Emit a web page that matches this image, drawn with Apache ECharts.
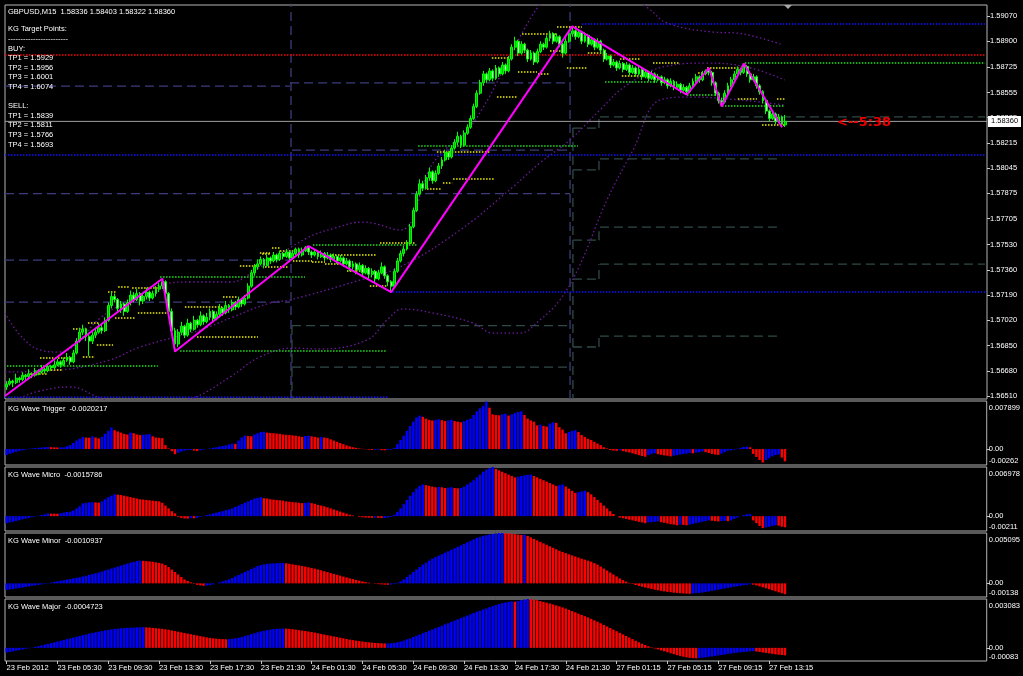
<!DOCTYPE html>
<html><head><meta charset="utf-8"><title>GBPUSD M15</title>
<script src="https://cdn.jsdelivr.net/npm/echarts@6.0.0/dist/echarts.min.js"></script>
<style>html,body{margin:0;padding:0;background:#000;}#chart{width:1023px;height:676px;}</style>
</head><body><div id="chart"></div><script>
const FONT = 'Liberation Sans, Arial, sans-serif';
const TXT = '#ffffff';
const SLOTS = 309;
const categories = Array.from({length: SLOTS}, (_, i) => 'b' + i);

const xTickLabels = ['23 Feb 2012','23 Feb 05:30','23 Feb 09:30','23 Feb 13:30','23 Feb 17:30','23 Feb 21:30','24 Feb 01:30','24 Feb 05:30','24 Feb 09:30','24 Feb 13:30','24 Feb 17:30','24 Feb 21:30','27 Feb 01:15','27 Feb 05:15','27 Feb 09:15','27 Feb 13:15'];
const priceTicks = [1.59070,1.58900,1.58725,1.58555,1.58385,1.58215,1.58045,1.57875,1.57705,1.57530,1.57360,1.57190,1.57020,1.56850,1.56680,1.56510];
const symbolName = 'GBPUSD,M15';
const infoLines = ['KG Target Points:','------------------------','BUY:','TP1 = 1.5929','TP2 = 1.5956','TP3 = 1.6001','TP4 = 1.6074','','SELL:','TP1 = 1.5839','TP2 = 1.5811','TP3 = 1.5766','TP4 = 1.5693'];
const timerText = '<--5:38';

// [open, close, low, high]
const candles = [
[1.5657,1.5659,1.5655,1.5661],[1.5659,1.5661,1.5658,1.5663],[1.5661,1.5660,1.5657,1.5662],[1.5660,1.5663,1.5659,1.5666],[1.5663,1.5662,1.5660,1.5664],
[1.5662,1.5665,1.5661,1.5667],[1.5665,1.5664,1.5662,1.5666],[1.5664,1.5666,1.5663,1.5669],[1.5666,1.5665,1.5663,1.5667],[1.5665,1.5668,1.5664,1.5670],
[1.5668,1.5667,1.5665,1.5669],[1.5667,1.5669,1.5666,1.5672],[1.5669,1.5668,1.5666,1.5670],[1.5668,1.5671,1.5667,1.5673],[1.5671,1.5670,1.5668,1.5672],
[1.5670,1.5672,1.5669,1.5675],[1.5672,1.5674,1.5671,1.5676],[1.5674,1.5672,1.5670,1.5675],[1.5672,1.5675,1.5671,1.5677],[1.5675,1.5677,1.5674,1.5680],
[1.5677,1.5674,1.5672,1.5678],[1.5674,1.5680,1.5673,1.5682],[1.5680,1.5688,1.5679,1.5690],[1.5688,1.5694,1.5687,1.5697],[1.5694,1.5696,1.5692,1.5699],
[1.5696,1.5691,1.5688,1.5697],[1.5691,1.5688,1.5678,1.5692],[1.5688,1.5692,1.5686,1.5694],[1.5692,1.5694,1.5690,1.5697],[1.5694,1.5697,1.5693,1.5700],
[1.5697,1.5695,1.5693,1.5699],[1.5695,1.5702,1.5694,1.5704],[1.5702,1.5712,1.5701,1.5714],[1.5712,1.5718,1.5710,1.5721],[1.5718,1.5716,1.5714,1.5720],
[1.5716,1.5710,1.5708,1.5717],[1.5710,1.5713,1.5707,1.5715],[1.5713,1.5708,1.5705,1.5714],[1.5708,1.5714,1.5707,1.5716],[1.5714,1.5719,1.5712,1.5722],
[1.5719,1.5716,1.5714,1.5721],[1.5716,1.5720,1.5715,1.5723],[1.5720,1.5715,1.5712,1.5721],[1.5715,1.5718,1.5713,1.5720],[1.5718,1.5721,1.5716,1.5724],
[1.5721,1.5717,1.5715,1.5722],[1.5717,1.5720,1.5716,1.5722],[1.5720,1.5723,1.5718,1.5725],[1.5723,1.5725,1.5721,1.5727],[1.5725,1.5728,1.5723,1.5730],
[1.5728,1.5720,1.5718,1.5729],[1.5720,1.5708,1.5706,1.5721],[1.5708,1.5695,1.5693,1.5710],[1.5695,1.5686,1.5681,1.5697],[1.5686,1.5694,1.5684,1.5696],
[1.5694,1.5698,1.5692,1.5701],[1.5698,1.5692,1.5690,1.5699],[1.5692,1.5700,1.5691,1.5703],[1.5700,1.5696,1.5694,1.5701],[1.5696,1.5702,1.5695,1.5705],
[1.5702,1.5699,1.5697,1.5703],[1.5699,1.5705,1.5698,1.5708],[1.5705,1.5701,1.5699,1.5706],[1.5701,1.5704,1.5700,1.5707],[1.5704,1.5708,1.5702,1.5710],
[1.5708,1.5703,1.5701,1.5709],[1.5703,1.5706,1.5702,1.5708],[1.5706,1.5710,1.5704,1.5713],[1.5710,1.5707,1.5705,1.5711],[1.5707,1.5712,1.5706,1.5715],
[1.5712,1.5709,1.5707,1.5713],[1.5709,1.5714,1.5708,1.5716],[1.5714,1.5711,1.5709,1.5715],[1.5711,1.5716,1.5710,1.5718],[1.5716,1.5713,1.5711,1.5717],
[1.5713,1.5717,1.5712,1.5719],[1.5717,1.5725,1.5716,1.5727],[1.5725,1.5734,1.5724,1.5736],[1.5734,1.5738,1.5732,1.5740],[1.5738,1.5740,1.5736,1.5743],
[1.5740,1.5743,1.5739,1.5745],[1.5743,1.5739,1.5737,1.5744],[1.5739,1.5744,1.5738,1.5746],[1.5744,1.5742,1.5740,1.5745],[1.5742,1.5746,1.5741,1.5748],
[1.5746,1.5743,1.5741,1.5747],[1.5743,1.5747,1.5742,1.5749],[1.5747,1.5745,1.5743,1.5748],[1.5745,1.5748,1.5744,1.5750],[1.5748,1.5744,1.5742,1.5749],
[1.5744,1.5747,1.5743,1.5749],[1.5747,1.5750,1.5746,1.5751],[1.5750,1.5746,1.5744,1.5751],[1.5746,1.5749,1.5745,1.5751],[1.5749,1.5751,1.5748,1.5752],
[1.5751,1.5748,1.5746,1.5752],[1.5748,1.5746,1.5744,1.5749],[1.5746,1.5748,1.5745,1.5750],[1.5748,1.5745,1.5743,1.5749],[1.5745,1.5747,1.5744,1.5749],
[1.5747,1.5744,1.5742,1.5748],[1.5744,1.5746,1.5743,1.5748],[1.5746,1.5743,1.5741,1.5747],[1.5743,1.5745,1.5742,1.5747],[1.5745,1.5742,1.5740,1.5746],
[1.5742,1.5744,1.5741,1.5746],[1.5744,1.5740,1.5738,1.5745],[1.5740,1.5742,1.5739,1.5744],[1.5742,1.5738,1.5735,1.5743],[1.5738,1.5740,1.5736,1.5742],
[1.5740,1.5736,1.5733,1.5741],[1.5736,1.5739,1.5735,1.5741],[1.5739,1.5734,1.5731,1.5740],[1.5734,1.5737,1.5733,1.5739],[1.5737,1.5733,1.5730,1.5738],
[1.5733,1.5735,1.5731,1.5737],[1.5735,1.5730,1.5727,1.5736],[1.5730,1.5734,1.5729,1.5736],[1.5734,1.5738,1.5733,1.5741],[1.5738,1.5732,1.5730,1.5739],
[1.5732,1.5728,1.5725,1.5733],[1.5728,1.5725,1.5721,1.5729],[1.5725,1.5735,1.5724,1.5737],[1.5735,1.5742,1.5734,1.5744],[1.5742,1.5747,1.5741,1.5749],
[1.5747,1.5750,1.5745,1.5752],[1.5750,1.5754,1.5749,1.5756],[1.5754,1.5765,1.5753,1.5767],[1.5765,1.5776,1.5764,1.5778],[1.5776,1.5787,1.5775,1.5789],
[1.5787,1.5794,1.5786,1.5797],[1.5794,1.5791,1.5789,1.5796],[1.5791,1.5798,1.5790,1.5800],[1.5798,1.5802,1.5796,1.5805],[1.5802,1.5796,1.5794,1.5803],
[1.5796,1.5801,1.5795,1.5803],[1.5801,1.5806,1.5800,1.5808],[1.5806,1.5810,1.5804,1.5812],[1.5810,1.5815,1.5809,1.5817],[1.5815,1.5812,1.5810,1.5816],
[1.5812,1.5818,1.5811,1.5820],[1.5818,1.5822,1.5817,1.5824],[1.5822,1.5826,1.5820,1.5829],[1.5826,1.5820,1.5818,1.5827],[1.5820,1.5828,1.5819,1.5830],
[1.5828,1.5832,1.5827,1.5834],[1.5832,1.5838,1.5831,1.5840],[1.5838,1.5846,1.5837,1.5848],[1.5846,1.5855,1.5845,1.5857],[1.5855,1.5862,1.5854,1.5864],
[1.5862,1.5868,1.5860,1.5870],[1.5868,1.5864,1.5862,1.5869],[1.5864,1.5870,1.5863,1.5872],[1.5870,1.5865,1.5863,1.5871],[1.5865,1.5872,1.5864,1.5874],
[1.5872,1.5868,1.5866,1.5873],[1.5868,1.5874,1.5867,1.5876],[1.5874,1.5870,1.5868,1.5875],[1.5870,1.5878,1.5869,1.5880],[1.5878,1.5886,1.5877,1.5888],
[1.5886,1.5890,1.5884,1.5893],[1.5890,1.5882,1.5880,1.5891],[1.5882,1.5888,1.5881,1.5890],[1.5888,1.5884,1.5882,1.5889],[1.5884,1.5878,1.5876,1.5885],
[1.5878,1.5882,1.5877,1.5884],[1.5882,1.5876,1.5874,1.5883],[1.5876,1.5883,1.5875,1.5885],[1.5883,1.5888,1.5882,1.5890],[1.5888,1.5886,1.5884,1.5889],
[1.5886,1.5892,1.5885,1.5894],[1.5892,1.5895,1.5890,1.5897],[1.5895,1.5890,1.5888,1.5896],[1.5890,1.5893,1.5889,1.5895],[1.5893,1.5888,1.5886,1.5894],
[1.5888,1.5882,1.5879,1.5889],[1.5882,1.5890,1.5881,1.5892],[1.5890,1.5895,1.5889,1.5897],[1.5895,1.5897,1.5893,1.5900],[1.5897,1.5893,1.5891,1.5898],
[1.5893,1.5896,1.5892,1.5898],[1.5896,1.5890,1.5888,1.5897],[1.5890,1.5894,1.5889,1.5896],[1.5894,1.5888,1.5886,1.5895],[1.5888,1.5891,1.5887,1.5893],
[1.5891,1.5886,1.5884,1.5892],[1.5886,1.5890,1.5885,1.5892],[1.5890,1.5884,1.5882,1.5891],[1.5884,1.5878,1.5876,1.5885],[1.5878,1.5880,1.5877,1.5882],
[1.5880,1.5874,1.5872,1.5881],[1.5874,1.5876,1.5873,1.5878],[1.5876,1.5872,1.5870,1.5877],[1.5872,1.5875,1.5871,1.5877],[1.5875,1.5871,1.5869,1.5876],
[1.5871,1.5874,1.5870,1.5876],[1.5874,1.5869,1.5867,1.5875],[1.5869,1.5872,1.5868,1.5874],[1.5872,1.5868,1.5866,1.5873],[1.5868,1.5871,1.5867,1.5873],
[1.5871,1.5866,1.5864,1.5872],[1.5866,1.5869,1.5865,1.5871],[1.5869,1.5865,1.5863,1.5870],[1.5865,1.5868,1.5864,1.5870],[1.5868,1.5864,1.5862,1.5869],
[1.5864,1.5866,1.5863,1.5868],[1.5866,1.5862,1.5860,1.5867],[1.5862,1.5864,1.5861,1.5866],[1.5864,1.5860,1.5858,1.5865],[1.5860,1.5863,1.5859,1.5865],
[1.5863,1.5859,1.5857,1.5864],[1.5859,1.5861,1.5858,1.5863],[1.5861,1.5857,1.5855,1.5862],[1.5857,1.5859,1.5856,1.5861],[1.5859,1.5856,1.5854,1.5860],
[1.5856,1.5860,1.5855,1.5862],[1.5860,1.5863,1.5859,1.5865],[1.5863,1.5866,1.5862,1.5868],[1.5866,1.5864,1.5862,1.5867],[1.5864,1.5868,1.5863,1.5870],
[1.5868,1.5870,1.5867,1.5871],[1.5870,1.5869,1.5867,1.5872],[1.5869,1.5862,1.5860,1.5870],[1.5862,1.5855,1.5853,1.5863],[1.5855,1.5850,1.5848,1.5856],
[1.5850,1.5849,1.5846,1.5852],[1.5849,1.5855,1.5848,1.5857],[1.5855,1.5860,1.5854,1.5862],[1.5860,1.5864,1.5859,1.5866],[1.5864,1.5868,1.5863,1.5870],
[1.5868,1.5871,1.5867,1.5873],[1.5871,1.5869,1.5867,1.5872],[1.5869,1.5873,1.5868,1.5875],[1.5873,1.5868,1.5866,1.5874],[1.5868,1.5864,1.5862,1.5869],
[1.5864,1.5866,1.5863,1.5868],[1.5866,1.5860,1.5858,1.5867],[1.5860,1.5856,1.5854,1.5861],[1.5856,1.5850,1.5848,1.5857],[1.5850,1.5843,1.5841,1.5851],
[1.5843,1.5838,1.5836,1.5844],[1.5838,1.5841,1.5837,1.5843],[1.5841,1.5836,1.5834,1.5842],[1.5836,1.5839,1.5835,1.5841],[1.5839,1.5834,1.5832,1.5840],
[1.58336,1.58360,1.58322,1.58403]
];

// ZigZag pivots [bar index, price]
const zigzag = [[-0.5,1.5651],[49,1.5730],[53,1.5681],[95,1.5752],[121,1.5721],[178,1.5900],[214,1.5854],[221,1.5872],[225,1.5846],[232,1.5875],[244,1.5832]];

// Band curves [bar index, price]
const upperBand = [[-0.5,1.57069],[4.2,1.56921],[10.5,1.5682],[16.8,1.56806],[21.5,1.56854],[29.4,1.57035],[38.8,1.57157],[48.3,1.57258],[57.7,1.57278],[70.3,1.57278],[79.7,1.57379],[94.5,1.57574],[103.4,1.57642],[112.2,1.57682],[123.8,1.57628],[134.2,1.5808],[146.8,1.58349],[162.2,1.58955],[167.2,1.59131],[174.1,1.5931],[193,1.59245],[201.8,1.59124],[207.8,1.59023],[222.3,1.58962],[229.8,1.58955],[237.1,1.58922],[244.3,1.58875]];
const middleBand = [[-0.5,1.56672],[16.8,1.56685],[32.5,1.56753],[42,1.5684],[60.9,1.56955],[71.2,1.57042],[82.9,1.57137],[89.2,1.57157],[111.2,1.57291],[123.8,1.57379],[142.7,1.57628],[159.3,1.57918],[167.8,1.5808],[177.3,1.58235],[186.7,1.58437],[195.2,1.58605],[207.8,1.58733],[220.4,1.58753],[233,1.58726],[244.9,1.58639]];
const lowerBand = [[-0.5,1.5645],[4.2,1.56497],[10.5,1.56544],[20,1.56571],[29.4,1.56497],[42,1.56416],[58.7,1.56497],[70.3,1.56638],[79.7,1.56773],[90.1,1.56833],[98.6,1.56827],[113.4,1.56887],[119.7,1.57022],[124.7,1.57096],[134.2,1.57069],[146.8,1.57002],[153,1.56934],[161.5,1.56934],[167.8,1.57022],[174.1,1.57157],[180.4,1.57393],[188.9,1.5783],[197.1,1.58167],[205.6,1.58504],[215,1.58524],[230.8,1.58504],[244.9,1.5847]];

// Horizontal levels [from bar, to bar, price]
const yellowLevels = [[10.5,20.6,1.56766],[7.4,12.7,1.56658],[13,17.4,1.56685],[20.9,25.6,1.56961],[25.6,29.4,1.57002],[28.4,33.5,1.56854],[24,27.8,1.56773],[35.1,38.8,1.57244],[39.5,47.6,1.57238],[31.9,34.7,1.57211],[34.1,40.4,1.57035],[41.3,50.8,1.57069],[56.1,67.8,1.5711],[59.9,79.1,1.56907],[68.1,72.5,1.57177],[73.4,79.7,1.57386],[80.4,82.9,1.57467],[83.5,86,1.57507],[86,93.3,1.57487],[79.7,82.9,1.57473],[81.3,88.5,1.57379],[90.1,96.1,1.57419],[96.1,100.2,1.57413],[102.4,116.5,1.5746],[100.2,104.9,1.57399],[107.1,115,1.57352],[114.3,119.7,1.57251],[117.5,128.5,1.57541],[135.4,152.1,1.58154],[140.5,153.7,1.57972],[137.3,140.2,1.57945],[132.3,137,1.57905],[154.3,160.6,1.58524],[152.7,157.8,1.58787],[162.2,173.2,1.58949],[173.2,181,1.58996],[160.9,166.9,1.58693],[167.2,171,1.58679],[171,175.1,1.58834],[176.3,182.6,1.5872],[182.9,187.7,1.58821],[193,199.3,1.5878],[203.4,211.9,1.58753],[193.6,199.9,1.58666],[217.6,220.4,1.58686],[220.4,230.8,1.5872],[230.1,236.1,1.58511],[242.4,244.9,1.58511],[237.7,244.9,1.58336]];
const greenLevels = [[0.1,47.6,1.56712],[48.3,93.9,1.57312],[54.6,119.7,1.56813],[96.4,129.1,1.57527],[129.5,179.8,1.58194],[188.3,204.7,1.58625],[214.1,222.9,1.58538],[225.1,244.9,1.58464],[232.3,307.9,1.58753]];
const blueLevels = [[-0.5,307.9,1.58134],[120.6,307.9,1.57211],[-0.5,120,1.56502],[181,307.9,1.59016]];
const redLevels = [[-0.5,307.9,1.58807]];
const slateLevels = [[-0.5,89.2,1.58598],[-0.5,177.3,1.57873],[-0.5,89.2,1.57426],[-0.5,89.2,1.57143],[89.2,177.3,1.58619],[89.8,177.3,1.58167]];
const grayLevels = [[89.8,177.3,1.56984],[89.8,177.3,1.56705],[178.2,186.1,1.58315],[186.7,307.9,1.5839],[178.2,186.1,1.58033],[186.7,243.4,1.58107],[186.7,243.4,1.57648],[178.2,186.1,1.57560],[186.7,307.9,1.57399],[178.2,186.1,1.57298],[186.7,243.4,1.56914],[178.2,186.1,1.56840]];
// vertical connectors of the grey step levels [bar, fromPrice, toPrice]
const grayVerticals = [[89.8,1.56984,1.564898],[178.2,1.58315,1.564898],[186.4,1.58315,1.5839],[186.4,1.58033,1.58107],[186.4,1.5756,1.57648],[186.4,1.57298,1.57399],[186.4,1.5684,1.56914]];
const daySeparators = [89.5, 177.3];

// Oscillator panels (values in units of 1e-4)
const OSC_SCALE = 1e-4;
const triggerE4 = [-10,-8,-6,-4.5,-3,-2,-1,0.5,1,1.5, 2,2.5,3,3.5,3.2,2.8,2.5,2.7,3,4.5, 6.5,10,14,17,20,19,18.5,21,19,17.5, 20,25,30,35.5,31,29,27,25,24,27, 26,24,23,23.5,24,24.5,21,19,18.5,18, 6.5,1,-3.5,-8.5,-6,-4,-2.5,-1.8,-1.5,-2.5, -3.3,-2,-1,0,1,2,3,4,5,6, 7.5,9,8.5,14,19,22,21.5,21,24,26, 28,28.5,27,26.5,26,25.5,25,24,23.5,23, 22.5,22,21,20,21.5,22,21,20,19,20, 19,18,16,14,12,10,8,6,4.5,3, 2,1,0.5,-0.5,-1,-1.5,-1.2,-1,-1.8,-2, -1.5,-1,2,8,15,22,30,38,45,52, 55,53,50,48,47,48,49,47.5,46,47, 48,46,45,44,46,48,50,56,62,67, 71,78,68,57,56,55.5,57,58,55,57, 59,61,62,56,50,47,45,39,40,38, 37,42,44,43,36,32,26,28,30,31, 28,23,20,17,15,12,9,6.5,3,1, -1.5,-2.5,-3,-2,-3.5,-4.5,-5.5,-7,-8.5,-10, -11.5,-12.5,-10,-8,-7,-8.5,-9.5,-10.5,-11,-12, -11,-10,-9,-8,-7.5,-6.5,-7,-6,-5,-4, -5,-6.5,-8,-9,-9.5,-7.5,-5,-3,-2,-1, 0.5,2,3.5,4,3,-8,-13,-18,-22,-18, -15,-12,-10,-9,-14,-20.217];
const microE4 = [-10,-9,-8,-7,-5.7,-4.5,-3.5,-2.5,-1.5,-0.5, 0.5,1.5,2.5,3.8,3.6,3.5,3.4,4,5,6, 6.5,8,11,14,18,19,19.4,19.8,19.5,19.2, 21,24,27,29,31,30.5,30,29,28,27, 26,25,24,23.5,23,22.5,22,21.5,21,19, 15,11,7,4,-1,-2.5,-3.3,-3.5,-2.8,-3, -2.4,-1,0.5,1.4,2.5,3.8,5,6,7,8.5, 9.5,11,13,15,17,19,21,23,25,26, 27,25.5,25,24,23.5,23,22.5,22,21,20.5, 20,19.5,19,18.5,19,19.5,18.5,17.5,16,15, 14,12.5,11,9.5,8,6.5,5,3.5,2,1, 0,-1,-1.5,-2,-2.2,-2.4,-2.1,-2.5,-2.8,-2.5, -2,-1,2,6,11,17,23,29,34,39, 43,45,44,43,42,41,41.5,41,40,40.5, 41,40,39.5,40,42,45,48,51,55,59, 63,66,68,69.78,67,65,63,61,59,57, 55,56,57,58,58.5,59,57,55,53,51, 49,47,45,43,44,45,42,39,36,33, 34,35,36,34,31,27,23,19,15,11, 7,3,0,-2,-3,-4,-5,-6,-7,-8, -9,-10,-9,-8.5,-8,-7.5,-8.5,-9.5,-10.5,-11.5, -12,-13,-12,-12.5,-13,-12,-11,-10,-9,-8, -7,-6,-6.5,-7,-7.5,-7,-6.5,-7,-6,-4, -2,0,1.5,2.5,3,-6,-10,-14,-17,-16, -15,-14,-13,-13.5,-15,-15.786];
const minorE4 = [-6.7,-6.2,-5.7,-5.2,-4.7,-4.2,-3.6,-3,-2.5,-2, -1.5,-1,-0.5,0.2,0.8,1.5,2,2.6,3.2,3.8, 4.4,5,5.6,6.2,7,7.8,8.6,9.4,10.2,11, 12,13,14,15,16,17,18,19,20,21, 21.8,22.5,23,22.8,22.5,22.2,21.8,21.3,20.7,20, 18.5,16.5,14,11.5,9,6.5,4,2.5,1,-0.5, -1.5,-2,-2.4,-2.2,-1.8,-1,0,1,2,3, 4,5.5,7,8.5,10,11.5,13,14.5,16,17.5, 18.5,19.2,19.7,20,20.2,20.4,20.6,20.7,20.3,19.8, 19.3,18.7,18.2,17.6,17,16.3,15.6,14.8,14,13.2, 12.3,11.4,10.5,9.6,8.7,7.8,6.9,6,5.1,4.3, 3.5,2.7,2,1.3,0.7,0.1,-0.4,-0.8,-1.1,-1.3, -1.4,-1.2,-0.6,0.5,2,4,6.5,9,11.5,14, 16.5,19,21,23,25,26.5,28,29.5,31,32.5, 34,35.5,37,38.5,40,41.5,43,44.5,46,47, 48,48.8,49.5,50,50.5,50.9,50.95,50.8,50.5,50.2, 49.8,49.4,49,49.2,48,46.5,45,43.5,42,40.5, 39,37.5,36,34.5,33,31.8,30.6,29.4,28.3,27.2, 26.1,25,24,23,22,20.5,19,17,15,13, 11,9,7,5,3.3,1.8,0.5,-0.6,-1.7,-2.6, -3.4,-4.2,-5,-5.7,-6.4,-7,-7.6,-8.1,-8.6,-9, -9.4,-9.7,-10,-10.2,-10.4,-10.5,-10.3,-10,-9.6,-9.2, -8.7,-8.2,-7.6,-7,-6.4,-5.8,-5.2,-4.6,-4,-3.4, -2.9,-2.4,-1.9,-1.4,-1,-1.3,-2,-3,-4,-5, -6,-7,-8,-9,-10,-10.937];
const majorE4 = [-3,-2.6,-2.2,-1.8,-1.4,-1,-0.6,-0.2,0.2,0.6, 1,1.5,2,2.5,3,3.5,4,4.5,5,5.5, 6,6.5,7,7.5,8,8.5,9,9.4,9.8,10.2, 10.6,11,11.3,11.6,11.9,12.1,12.3,12.5,12.6,12.7, 12.8,12.9,12.95,13,12.9,12.8,12.6,12.4,12.2,12, 11.7,11.4,11,10.6,10.2,9.8,9.4,9,8.6,8.2, 7.8,7.4,7,6.6,6.3,6,5.8,5.6,5.5,5.4, 5.5,5.7,6,6.4,6.9,7.4,8,8.6,9.2,9.8, 10.3,10.8,11.2,11.5,11.8,12,12.1,12.2,12.1,12, 11.8,11.5,11.2,10.9,10.6,10.3,10,9.6,9.2,8.8, 8.4,8,7.6,7.2,6.8,6.4,6,5.6,5.2,4.9, 4.6,4.3,4,3.7,3.5,3.3,3.1,3,2.9,2.8, 2.8,2.9,3.1,3.5,4,4.6,5.3,6,6.8,7.6, 8.4,9.2,10,10.8,11.6,12.4,13.2,14,14.8,15.6, 16.4,17.2,18,18.8,19.6,20.4,21.2,22,22.8,23.5, 24.2,24.9,25.6,26.3,27,27.6,28.2,28.6,29,29.3, 29.1,29.6,30.1,30.5,30.83,30.7,30.4,30,29.5,29, 28.5,28,27.4,26.8,26.2,25.5,24.8,24,23.2,22.4, 21.6,20.8,20,19.2,18.3,17.4,16.5,15.5,14.5,13.5, 12.5,11.5,10.5,9.5,8.5,7.5,6.5,5.5,4.5,3.5, 2.6,1.8,1,0.3,-0.4,-1,-1.6,-2.2,-2.8,-3.4, -4,-4.6,-5.1,-5.6,-6,-6.3,-6.5,-6.6,-6.4,-6.2, -6,-5.7,-5.4,-5.1,-4.8,-4.5,-4.2,-3.9,-3.6,-3.3, -3,-2.8,-2.6,-2.4,-2.2,-2.1,-2.3,-2.6,-2.9,-3.2, -3.5,-3.8,-4.1,-4.3,-4.5,-4.723];
const panelNames = ['KG Wave Trigger','KG Wave Micro','KG Wave Minor','KG Wave Major'];
const panelMaxLabels = ['0.007899','0.006978','0.005095','0.003083'];
const panelMinLabels = ['-0.00262','-0.00211','-0.00138','-0.00083'];

// ---------- layout & build ----------
const chart = echarts.init(document.getElementById('chart'));
const PRICE_MIN = 1.564898, PRICE_MAX = 1.591441;
const panelData = [triggerE4, microE4, minorE4, majorE4].map(a => a.map(v => v * OSC_SCALE));
const gridTops = [401, 467, 533, 599], gridHeights = [64, 64, 64, 62];
const BORDER = '#b4b4b4';

const grids = [{left: 5, right: 36, top: 5, height: 394, show: true, borderColor: BORDER, borderWidth: 1}];
gridTops.forEach((t, k) => grids.push({left: 5, right: 36, top: t, height: gridHeights[k], show: true, borderColor: BORDER, borderWidth: 1}));

const tickShown = i => i % 16 === 0 && i / 16 < xTickLabels.length;
const xAxes = [
  {type: 'category', gridIndex: 0, data: categories, show: false, axisLine: {onZero: false}},
  {type: 'value', gridIndex: 0, min: -0.5, max: SLOTS - 0.5, show: false, axisLine: {onZero: false}}
];
for (let k = 1; k <= 4; k++) {
  xAxes.push({type: 'category', gridIndex: k, data: categories, show: k === 4, position: 'bottom',
    axisLine: {show: false, onZero: false},
    axisTick: {show: true, alignWithLabel: true, interval: (i) => tickShown(i), length: 3, lineStyle: {color: '#c8c8c8'}},
    axisLabel: {interval: (i) => tickShown(i), formatter: (v, i) => xTickLabels[i / 16] || '', align: 'left', margin: 3, color: TXT, fontSize: 7.5, fontFamily: FONT},
    splitLine: {show: false}});
}
const yAxes = [{type: 'value', gridIndex: 0, position: 'right', min: PRICE_MIN, max: PRICE_MAX, splitLine: {show: false}, axisLine: {show: false, onZero: false},
  axisTick: {show: true, customValues: priceTicks, length: 3, lineStyle: {color: '#c8c8c8'}},
  axisLabel: {customValues: priceTicks, formatter: v => v.toFixed(5), color: TXT, fontSize: 7.5, fontFamily: FONT, margin: 3}}];
panelData.forEach((d, k) => {
  const mx = parseFloat(panelMaxLabels[k]), mn = parseFloat(panelMinLabels[k]);
  yAxes.push({type: 'value', gridIndex: k + 1, position: 'right', min: mn, max: mx, splitLine: {show: false}, axisLine: {show: false, onZero: false},
    axisTick: {show: true, customValues: [0], length: 3, lineStyle: {color: '#c8c8c8'}},
    axisLabel: {customValues: [mx, 0, mn], margin: 2, color: TXT, fontSize: 7.5, fontFamily: FONT,
      formatter: v => v === mx ? '{t|' + panelMaxLabels[k] + '}' : (v === mn ? '{b|' + panelMinLabels[k] + '}' : '0.00'),
      rich: {t: {padding: [13, 0, 0, 0], color: TXT, fontSize: 7.5, fontFamily: FONT}, b: {padding: [0, 0, 9, 0], color: TXT, fontSize: 7.5, fontFamily: FONT}}}});
});

function seg(list) { const d = []; list.forEach(([a, b, p]) => { d.push([a, p], [b, p], [b, null]); }); return d; }
function vseg(list) { const d = []; list.forEach(([x, p1, p2]) => { d.push([x, p1], [x, p2], [x, null]); }); return d; }
function lineS(data, color, dash, width, z, smooth) {
  return {type: 'line', xAxisIndex: 1, yAxisIndex: 0, data, symbol: 'none', silent: true, animation: false, connectNulls: false, smooth: smooth || false,
    lineStyle: {color, width, type: dash}, z: z || 2};
}
const S = [];
S.push(lineS(vseg(daySeparators.map(x => [x, PRICE_MIN, PRICE_MAX])), '#3c3c7c', [9, 5], 1.3, 1));
S.push(lineS(seg(slateLevels), '#3c3c7c', [9, 5], 1.3, 1));
S.push(lineS(seg(grayLevels), '#304a4a', [9, 5], 1.3, 1));
S.push(lineS(vseg(grayVerticals), '#304a4a', [9, 5], 1.3, 1));
S.push(lineS(upperBand, '#6a1a9a', [1.5, 2.5], 1.3, 1, 0.4));
S.push(lineS(middleBand, '#6a1a9a', [1.5, 2.5], 1.3, 1, 0.4));
S.push(lineS(lowerBand, '#6a1a9a', [1.5, 2.5], 1.3, 1, 0.4));
S.push(lineS(seg(redLevels), '#ff0000', [1.5, 1.5], 1.5, 2));
S.push(lineS(seg(blueLevels), '#1010ff', [1.5, 1.5], 1.5, 2));
S.push(lineS(seg(greenLevels), '#20e020', [1.5, 1.5], 1.5, 2));
S.push(lineS(seg(yellowLevels), '#f0f000', [1.5, 1.5], 1.5, 3));
const lastC = candles[candles.length - 1];
S.push(lineS([[-0.5, lastC[1]], [SLOTS - 0.5, lastC[1]]], '#a0a0a0', 'solid', 1, 2));
S.push({type: 'candlestick', xAxisIndex: 0, yAxisIndex: 0, data: candles, barWidth: 2.4, silent: true, animation: false, z: 4,
  itemStyle: {color: '#00b400', color0: '#c8ffc8', borderColor: '#00ff00', borderColor0: '#00ff00', borderWidth: 1}});
S.push(lineS(zigzag, '#ff00ff', 'solid', 2, 5));
panelData.forEach((d, k) => {
  S.push({type: 'bar', xAxisIndex: k + 2, yAxisIndex: k + 1, barWidth: 2.4, silent: true, animation: false,
    data: d.map((v, i) => ({value: v, itemStyle: {color: (i === 0 || v >= d[i - 1]) ? '#0000ff' : '#ff0000'}}))});
});

chart.setOption({backgroundColor: '#000000', animation: false, grid: grids, xAxis: xAxes, yAxis: yAxes, series: S});

// ---------- texts ----------
const SMALL = '7.5px ' + FONT;
const g = [];
function txt(x, y, s) { g.push({type: 'text', x, y, z: 100, silent: true, style: {text: s, fill: TXT, font: SMALL, textVerticalAlign: 'middle', verticalAlign: 'middle'}}); }
txt(8, 11.7, symbolName + '  ' + lastC[0].toFixed(5) + ' ' + lastC[3].toFixed(5) + ' ' + lastC[2].toFixed(5) + ' ' + lastC[1].toFixed(5));
infoLines.forEach((s, k) => { if (s) txt(8, 29.3 + k * 9.6, s); });
const titleY = [409, 475, 541, 607];
panelNames.forEach((n, k) => { const d = panelData[k]; txt(8, titleY[k], n + '  ' + d[d.length - 1].toFixed(7)); });
const yCur = chart.convertToPixel({yAxisIndex: 0}, lastC[1]);
g.push({type: 'rect', z: 100, silent: true, shape: {x: 988, y: yCur - 5.5, width: 33, height: 11}, style: {fill: '#ffffff'}});
g.push({type: 'text', z: 101, silent: true, x: 991, y: yCur, style: {text: lastC[1].toFixed(5), fill: '#000000', font: SMALL, textVerticalAlign: 'middle', verticalAlign: 'middle'}});
const xTimer = chart.convertToPixel({xAxisIndex: 1}, 261.3);
g.push({type: 'text', z: 101, silent: true, x: xTimer, y: yCur + 1, style: {text: timerText, fill: '#ee0000', font: 'bold 13px DejaVu Sans', textVerticalAlign: 'middle', verticalAlign: 'middle'}});
g.push({type: 'polygon', z: 101, silent: true, shape: {points: [[784, 5], [792, 5], [788, 9]]}, style: {fill: '#a8a8a8'}});
chart.setOption({graphic: g});
</script></body></html>
